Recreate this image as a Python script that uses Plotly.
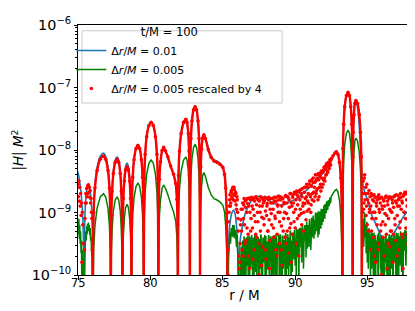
import numpy as np
import plotly.graph_objects as go

# ---------------- data (log10 |H| M^2) ----------------
# dr/M = 0.01 (blue)
r_left = [75.00, 75.10, 75.20, 75.30, 75.37, 75.42,
          75.444, 75.48, 75.54, 75.63, 75.72, 75.81, 75.90, 75.96, 75.996]
blue_left = [-8.35, -8.48, -8.66, -8.95, -9.35, -11,
             -9.45, -9.06, -8.78, -8.60, -8.55, -8.60, -8.78, -9.06, -9.45]

r_mid = [76.02,
         76.08, 76.17, 76.32, 76.54, 76.76, 76.91, 77.07, 77.17, 77.23, 77.27,
         77.30, 77.36, 77.44, 77.57, 77.70, 77.81, 77.92, 77.99, 78.04, 78.07,
         78.10, 78.13, 78.20, 78.29, 78.39, 78.48, 78.57, 78.63, 78.67, 78.69,
         78.73, 78.78, 78.87, 79.01, 79.14, 79.26, 79.38, 79.46, 79.51, 79.54,
         79.58, 79.64, 79.74, 79.90, 80.05, 80.20, 80.35, 80.45, 80.51, 80.55,
         80.58, 80.62, 80.70, 80.81, 80.92, 81.05, 81.20, 81.40, 81.60, 81.75, 81.83, 81.875, 81.90,
         81.94, 82.01, 82.12, 82.29, 82.45, 82.53, 82.62, 82.67, 82.70, 82.73,
         82.76, 82.80, 82.87, 82.98, 83.09, 83.19, 83.29, 83.36, 83.40, 83.43,
         83.45, 83.48, 83.53, 83.61, 83.69, 83.80, 84.00, 84.20, 84.40, 84.60, 84.80, 85.00, 85.12, 85.20, 85.27, 85.33]
blue_mid = [-11,
            -8.95, -8.56, -8.28, -8.10, -8.05, -8.10, -8.28, -8.56, -8.95, -11,
            -9.01, -8.62, -8.34, -8.16, -8.11, -8.16, -8.34, -8.62, -9.01, -11,
            -9.11, -8.72, -8.44, -8.26, -8.21, -8.26, -8.44, -8.72, -9.11, -11,
            -8.81, -8.42, -8.14, -7.96, -7.91, -7.96, -8.14, -8.42, -8.81, -11,
            -8.45, -8.06, -7.78, -7.60, -7.55, -7.60, -7.78, -8.06, -8.45, -11,
            -8.87, -8.48, -8.20, -8.02, -7.97, -8.03, -8.12, -8.27, -8.40, -8.55, -8.80, -9.20, -11,
            -8.44, -8.05, -7.77, -7.59, -7.54, -7.59, -7.77, -8.05, -8.44, -11,
            -8.21, -7.82, -7.54, -7.36, -7.31, -7.36, -7.54, -7.82, -8.21, -11,
            -8.65, -8.26, -7.98, -7.80, -7.75, -7.80, -7.96, -8.10, -8.16, -8.18, -8.21, -8.27, -8.38, -8.60, -9.00, -11]
green_mid = [-11,
             -9.60, -9.21, -8.93, -8.75, -8.70, -8.75, -8.93, -9.21, -9.60, -11,
             -9.65, -9.26, -8.98, -8.80, -8.75, -8.80, -8.98, -9.26, -9.65, -11,
             -9.77, -9.38, -9.10, -8.92, -8.87, -8.92, -9.10, -9.38, -9.77, -11,
             -9.43, -9.04, -8.76, -8.58, -8.53, -8.58, -8.76, -9.04, -9.43, -11,
             -9.06, -8.67, -8.39, -8.21, -8.16, -8.21, -8.39, -8.67, -9.06, -11,
             -9.46, -9.07, -8.79, -8.61, -8.56, -8.62, -8.71, -8.86, -8.99, -9.14, -9.39, -9.79, -11,
             -9.01, -8.62, -8.34, -8.16, -8.11, -8.16, -8.34, -8.62, -9.01, -11,
             -8.81, -8.42, -8.14, -7.96, -7.91, -7.96, -8.14, -8.42, -8.81, -11,
             -9.26, -8.87, -8.59, -8.41, -8.36, -8.42, -8.60, -8.72, -8.78, -8.80, -8.83, -8.88, -8.99, -9.21, -9.61, -11]

r_right = [85.36, 85.41, 85.49, 85.62, 85.74, 85.84, 85.94, 86.01, 86.05, 86.08,
           86.11, 86.20, 86.35, 86.55, 86.80, 87.10, 87.45, 87.90, 88.40, 88.85, 89.30, 89.80, 90.25,
           90.60, 91.00, 91.30, 91.70, 92.00, 92.30, 92.55, 92.75, 92.85, 92.95, 93.06, 93.15, 93.22, 93.27,
           93.30, 93.35, 93.42, 93.54, 93.65, 93.75, 93.84, 93.91, 93.94, 93.97,
           93.99, 94.01, 94.06, 94.12, 94.19, 94.28, 94.37, 94.45, 94.52, 94.58, 94.66, 94.80, 95.00,
           95.25, 95.50, 95.75, 96.00, 96.15, 96.25, 96.40, 96.60, 96.90, 97.20, 97.50, 97.80, 98.00]
blue_right = [-9.86, -9.47, -9.19, -9.01, -8.96, -9.01, -9.19, -9.47, -9.86, -11,
              -9.85, -9.45, -9.22, -9.02, -8.88, -8.78, -8.74, -8.77, -8.84, -8.88, -8.86, -8.81, -8.76,
              -8.68, -8.60, -8.52, -8.43, -8.35, -8.25, -8.14, -8.05, -8.03, -8.07, -8.20, -8.45, -8.90, -11,
              -7.98, -7.59, -7.31, -7.13, -7.08, -7.13, -7.31, -7.59, -7.98, -11,
              -8.10, -7.71, -7.43, -7.25, -7.20, -7.27, -7.45, -7.70, -8.00, -8.30, -8.52, -8.68, -8.80,
              -9.02, -9.15, -9.28, -9.42, -9.52, -9.60, -9.52, -9.42, -9.30, -9.18, -9.06, -8.97, -8.92]

# dr/M = 0.005 (green): noisy stretches
n0_r = [75.00, 75.03, 75.06, 75.09, 75.12, 75.15, 75.18, 75.21, 75.24, 75.27,
        75.30, 75.33, 75.36, 75.39, 75.42, 75.45, 75.48, 75.51, 75.54, 75.57,
        75.60, 75.63, 75.66, 75.69, 75.72, 75.75, 75.78, 75.81, 75.84, 75.87,
        75.90, 75.93, 75.96, 75.99]
n0_g = [-9.15, -9.35, -9.10, -9.42, -9.20, -9.50, -9.30, -9.65, -9.45, -10.4,
        -9.60, -9.80, -10.1, -10.8, -11.0, -10.2, -9.70, -9.45, -9.30, -9.45,
        -9.22, -9.35, -9.18, -9.30, -9.16, -9.28, -9.20, -9.36, -9.25, -9.45,
        -9.38, -9.60, -9.70, -10.2]

n1_r = [85.35, 85.40, 85.45, 85.50, 85.55, 85.60, 85.65, 85.70, 85.75, 85.80,
        85.85, 85.90, 85.95, 86.00, 86.05, 86.10, 86.15, 86.20, 86.25, 86.30,
        86.35, 86.40, 86.45, 86.50, 86.55, 86.60, 86.65, 86.70, 86.75, 86.80,
        86.85, 86.90, 86.95, 87.00, 87.05, 87.10, 87.15, 87.20, 87.25, 87.30,
        87.35, 87.40, 87.45, 87.50, 87.55, 87.60, 87.65, 87.70, 87.75, 87.80,
        87.85, 87.90, 87.95, 88.00, 88.05, 88.10, 88.15, 88.20, 88.25, 88.30,
        88.35, 88.40, 88.45, 88.50, 88.55, 88.60, 88.65, 88.70, 88.75, 88.80,
        88.85, 88.90, 88.95, 89.00, 89.05, 89.10, 89.15, 89.20, 89.25, 89.30,
        89.35, 89.40, 89.45, 89.50, 89.55, 89.60, 89.65, 89.70, 89.75, 89.80,
        89.85, 89.90, 89.95, 90.00, 90.05, 90.10, 90.15, 90.20, 90.25, 90.30,
        90.35, 90.40, 90.45, 90.50, 90.55, 90.60, 90.65, 90.70, 90.75, 90.80,
        90.85, 90.90, 90.95, 91.00, 91.05, 91.10, 91.15, 91.20, 91.25, 91.30,
        91.35, 91.40, 91.45, 91.50, 91.55, 91.60, 91.65, 91.70, 91.75, 91.80,
        91.85, 91.90, 91.95, 92.00, 92.05, 92.10, 92.15, 92.20, 92.25, 92.30,
        92.35, 92.40, 92.45, 92.50]
n1_g = [-10.6, -9.75, -9.50, -9.32, -9.45, -9.25, -9.38, -9.20, -9.31, -9.24,
        -9.42, -9.30, -9.55, -9.40, -9.70, -10.3, -10.8, -10.1, -9.72, -9.90,
        -9.55, -10.3, -9.48, -9.80, -9.42, -10.05, -9.60, -9.38, -9.95, -9.50,
        -10.5, -9.40, -9.70, -9.36, -9.85, -9.55, -10.2, -9.42, -9.75, -9.35,
        -10.0, -9.60, -9.40, -10.6, -9.50, -9.90, -9.37, -9.68, -10.15, -9.45,
        -9.80, -9.36, -9.58, -10.35, -9.50, -9.90, -9.40, -9.72, -10.05, -9.38,
        -9.62, -10.7, -9.45, -9.85, -9.36, -9.66, -10.2, -9.42, -9.95, -9.50,
        -9.34, -10.1, -9.60, -9.40, -9.82, -10.45, -9.38, -9.70, -9.46, -10.0,
        -9.33, -9.62, -9.90, -9.36, -10.25, -9.52, -9.30, -9.78, -9.45, -9.95,
        -9.32, -9.60, -9.28, -9.85, -9.40, -9.26, -9.70, -9.35, -10.3, -9.25,
        -9.55, -9.30, -9.80, -9.22, -9.45, -9.60, -9.20, -9.38, -9.72, -9.15,
        -9.42, -9.30, -9.55, -9.10, -9.35, -9.48, -9.08, -9.30, -9.05, -9.42,
        -9.12, -9.00, -9.30, -9.06, -9.22, -8.98, -9.35, -9.02, -9.15, -8.94,
        -9.20, -8.96, -9.08, -8.88, -9.10, -8.90, -9.00, -8.84, -8.96, -8.80,
        -8.90, -8.76, -8.84, -8.74]
n1b_r = [85.375, 85.425, 85.475, 85.525, 85.575, 85.625, 85.675, 85.725, 85.775, 85.825,
         85.875, 85.925, 85.975, 86.025, 86.075, 86.125, 86.175, 86.225, 86.275, 86.325,
         86.375, 86.425, 86.475, 86.525, 86.575, 86.625, 86.675, 86.725, 86.775, 86.825,
         86.875, 86.925, 86.975, 87.025, 87.075, 87.125, 87.175, 87.225, 87.275, 87.325,
         87.375, 87.425, 87.475, 87.525, 87.575, 87.625, 87.675, 87.725, 87.775, 87.825,
         87.875, 87.925, 87.975, 88.025, 88.075, 88.125, 88.175, 88.225, 88.275, 88.325,
         88.375, 88.425, 88.475, 88.525, 88.575, 88.625, 88.675, 88.725, 88.775, 88.825,
         88.875, 88.925, 88.975, 89.025, 89.075, 89.125, 89.175, 89.225, 89.275, 89.325,
         89.375, 89.425, 89.475, 89.525, 89.575, 89.625, 89.675, 89.725, 89.775, 89.825,
         89.875, 89.925, 89.975, 90.025, 90.075, 90.125, 90.175, 90.225, 90.275, 90.325,
         90.375, 90.425, 90.475, 90.525, 90.575, 90.625, 90.675, 90.725, 90.775, 90.825,
         90.875, 90.925, 90.975, 91.025, 91.075, 91.125, 91.175, 91.225, 91.275, 91.325,
         91.375, 91.425, 91.475, 91.525, 91.575, 91.625, 91.675, 91.725, 91.775, 91.825,
         91.875, 91.925, 91.975, 92.025, 92.075, 92.125, 92.175, 92.225, 92.275, 92.325,
         92.375, 92.425, 92.475]
n1b_g = [-10.2, -9.60, -9.40, -9.50, -9.28, -9.35, -9.22, -9.40, -9.20, -9.33,
         -9.28, -9.48, -9.35, -9.60, -9.90, -10.5, -10.4, -9.80, -9.55, -10.2,
         -9.45, -9.70, -9.38, -10.1, -9.52, -9.40, -9.85, -9.46, -10.3, -9.37,
         -9.60, -9.90, -9.38, -9.50, -10.35, -9.40, -9.65, -9.36, -9.95, -9.48,
         -9.38, -9.75, -10.1, -9.42, -9.60, -9.35, -10.45, -9.50, -9.40, -9.70,
         -9.42, -10.2, -9.37, -9.65, -9.46, -9.90, -9.36, -10.5, -9.55, -9.45,
         -9.80, -9.38, -9.55, -10.0, -9.42, -9.70, -9.36, -10.3, -9.48, -9.60,
         -9.40, -9.75, -9.35, -10.2, -9.50, -9.37, -9.90, -9.44, -9.60, -9.34,
         -10.1, -9.45, -9.35, -9.70, -9.40, -9.85, -9.30, -10.4, -9.50, -9.36,
         -9.45, -9.75, -9.30, -9.55, -10.1, -9.32, -9.48, -9.27, -9.65, -9.40,
         -9.24, -9.62, -9.35, -9.50, -9.90, -9.28, -9.46, -9.20, -9.35, -9.58,
         -9.20, -9.45, -9.15, -9.32, -9.60, -9.18, -9.40, -9.12, -9.28, -9.20,
         -9.35, -9.10, -9.25, -9.00, -9.40, -9.08, -9.20, -8.98, -9.26, -9.05,
         -8.95, -9.15, -8.92, -9.05, -8.86, -9.00, -8.82, -8.94, -8.86, -8.85,
         -8.80, -8.85, -8.76]

s2_r = [92.60, 92.75, 92.85, 92.95, 93.06, 93.15, 93.22, 93.27,
        93.30, 93.35, 93.42, 93.54, 93.65, 93.75, 93.84, 93.91, 93.94, 93.97,
        93.99, 94.01, 94.06, 94.12, 94.19, 94.31, 94.43, 94.51, 94.57, 94.60]
s2_g = [-8.70, -8.65, -8.63, -8.67, -8.80, -9.05, -9.50, -11,
        -8.58, -8.19, -7.91, -7.73, -7.68, -7.73, -7.91, -8.19, -8.58, -11,
        -8.71, -8.32, -8.04, -7.86, -7.81, -7.86, -8.04, -8.32, -8.71, -11]

n2_r = [94.65, 94.70, 94.75, 94.80, 94.85, 94.90, 94.95, 95.00, 95.05, 95.10,
        95.15, 95.20, 95.25, 95.30, 95.35, 95.40, 95.45, 95.50, 95.55, 95.60,
        95.65, 95.70, 95.75, 95.80, 95.85, 95.90, 95.95, 96.00, 96.05, 96.10,
        96.15, 96.20, 96.25, 96.30, 96.35, 96.40, 96.45, 96.50, 96.55, 96.60,
        96.65, 96.70, 96.75, 96.80, 96.85, 96.90, 96.95, 97.00, 97.05, 97.10,
        97.15, 97.20, 97.25, 97.30, 97.35, 97.40, 97.45, 97.50, 97.55, 97.60,
        97.65, 97.70, 97.75, 97.80, 97.85, 97.90, 97.95, 98.00]
n2_g = [-9.60, -9.10, -9.45, -9.00, -9.30, -9.65, -9.15, -9.40, -9.90, -9.25,
        -9.55, -10.2, -9.30, -9.70, -9.40, -10.0, -9.32, -9.60, -10.4, -9.45,
        -9.80, -9.35, -10.1, -9.55, -9.38, -9.90, -10.6, -9.50, -9.75, -9.40,
        -10.3, -9.62, -9.36, -9.95, -10.5, -9.48, -9.70, -9.35, -10.15, -9.58,
        -9.90, -9.40, -10.4, -9.52, -9.34, -9.80, -10.05, -9.45, -9.65, -9.33,
        -10.2, -9.50, -9.75, -9.36, -9.95, -9.45, -10.5, -9.32, -9.60, -9.30,
        -9.85, -9.40, -9.28, -10.1, -9.35, -9.55, -9.27, -9.70]
n2b_r = [94.675, 94.725, 94.775, 94.825, 94.875, 94.925, 94.975, 95.025, 95.075, 95.125,
         95.175, 95.225, 95.275, 95.325, 95.375, 95.425, 95.475, 95.525, 95.575, 95.625,
         95.675, 95.725, 95.775, 95.825, 95.875, 95.925, 95.975, 96.025, 96.075, 96.125,
         96.175, 96.225, 96.275, 96.325, 96.375, 96.425, 96.475, 96.525, 96.575, 96.625,
         96.675, 96.725, 96.775, 96.825, 96.875, 96.925, 96.975, 97.025, 97.075, 97.125,
         97.175, 97.225, 97.275, 97.325, 97.375, 97.425, 97.475, 97.525, 97.575, 97.625,
         97.675, 97.725, 97.775, 97.825, 97.875, 97.925, 97.975]
n2b_g = [-9.30, -9.55, -9.05, -9.40, -9.20, -9.50, -9.80, -9.30, -9.45, -9.60,
         -9.35, -9.50, -9.90, -9.33, -9.60, -9.42, -10.3, -9.36, -9.70, -9.50,
         -9.40, -10.2, -9.32, -9.60, -9.45, -9.80, -9.36, -9.55, -10.0, -9.42,
         -9.50, -9.80, -9.34, -9.65, -9.42, -10.1, -9.38, -9.55, -9.90, -9.36,
         -9.60, -9.45, -9.95, -9.35, -9.70, -9.42, -9.32, -10.3, -9.50, -9.40,
         -9.38, -9.85, -9.30, -9.55, -9.42, -10.0, -9.34, -9.60, -9.28, -9.70,
         -9.30, -9.50, -9.95, -9.26, -9.45, -9.30, -9.60]

rescale = 4.0
legend_title = "t/M = 100"
names = ["Δ<i>r</i>/<i>M</i> = 0.01",
         "Δ<i>r</i>/<i>M</i> = 0.005",
         "Δ<i>r</i>/<i>M</i> = 0.005 rescaled by 4"]
x_ticks = [75, 80, 85, 90, 95]
x_tick_labels = ["75", "80", "85", "90", "95"]

for a, b in [(r_left, blue_left), (r_mid, blue_mid), (r_mid, green_mid), (r_right, blue_right),
             (n0_r, n0_g), (n1_r, n1_g), (n1b_r, n1b_g), (s2_r, s2_g), (n2_r, n2_g), (n2b_r, n2b_g)]:
    assert len(a) == len(b), (len(a), len(b))

# ---------------- assemble ----------------
blue_r = r_left + r_mid + r_right
blue_h = 10.0 ** np.array(blue_left + blue_mid + blue_right)

green_pairs = sorted(zip(n0_r + r_mid + n1_r + n1b_r + s2_r + n2_r + n2b_r,
                         n0_g + green_mid + n1_g + n1b_g + s2_g + n2_g + n2b_g))
green_r = [p[0] for p in green_pairs]
green_h = 10.0 ** np.array([p[1] for p in green_pairs])
red_h = rescale * green_h

red_line_r = r_mid + [None] + s2_r
red_line_h = (list(rescale * 10.0 ** np.array(green_mid)) + [None]
              + list(rescale * 10.0 ** np.array(s2_g)))

fig = go.Figure()
fig.add_trace(go.Scatter(x=blue_r, y=blue_h, mode="lines", name=names[0],
                         line=dict(color="#1f77b4", width=1.6, shape="spline", smoothing=0.8)))
fig.add_trace(go.Scatter(x=green_r, y=green_h, mode="lines", name=names[1],
                         line=dict(color="#008000", width=1.5, simplify=False)))
fig.add_trace(go.Scatter(x=red_line_r, y=red_line_h, mode="lines", showlegend=False,
                         line=dict(color="#ff0000", width=2.4, shape="spline", smoothing=0.8),
                         hoverinfo="skip"))
fig.add_trace(go.Scatter(x=green_r, y=red_h, mode="markers", name=names[2],
                         marker=dict(color="#ff0000", size=3.6, line=dict(width=0))))

# x tick labels placed at the axis' own tick positions
for xv, lab in zip(x_ticks, x_tick_labels):
    fig.add_annotation(x=xv, xref="x", y=-0.03, yref="paper", text=lab, showarrow=False,
                       xanchor="center", yanchor="middle", font=dict(size=11.5, color="black"))

# legend frame (semi-transparent box like matplotlib's legend patch)
fig.add_shape(type="rect", xref="paper", yref="paper", x0=0.012, x1=0.613, y0=0.688, y1=0.977,
              fillcolor="rgba(255,255,255,0.8)", line=dict(color="#cccccc", width=1), layer="above")

fig.update_layout(
    width=415, height=311,
    margin=dict(l=70, r=12, t=17, b=44, autoexpand=False),
    paper_bgcolor="white", plot_bgcolor="white",
    font=dict(family="DejaVu Sans", size=11.5, color="black"),
    showlegend=True,
    legend=dict(x=-0.02, y=1.016, xanchor="left", yanchor="top",
                bgcolor="rgba(0,0,0,0)", borderwidth=0,
                title=dict(text=legend_title, side="top center", font=dict(size=11.5)),
                font=dict(size=11), itemwidth=30),
)
fig.update_xaxes(range=[75, 98], tickvals=x_ticks, showticklabels=False, ticks="outside", ticklen=3.5,
                 tickwidth=1, tickcolor="black", showline=True, mirror=True, linecolor="black",
                 linewidth=1, showgrid=False, zeroline=False, automargin=False,
                 title=dict(text="r / M", font=dict(size=13.5), standoff=12))
fig.update_yaxes(type="log", range=[-10, -6], dtick=1, exponentformat="power", ticks="outside",
                 ticklen=3.5, tickwidth=1, tickcolor="black", showline=True, mirror=True,
                 linecolor="black", linewidth=1, showgrid=False, zeroline=False, automargin=False,
                 minor=dict(ticks="outside", ticklen=2, tickwidth=0.8, tickcolor="black", showgrid=False),
                 title=dict(text="|<i>H</i>| <i>M</i><sup>2</sup>", font=dict(size=13.5), standoff=4))

fig.write_html("out.html")
